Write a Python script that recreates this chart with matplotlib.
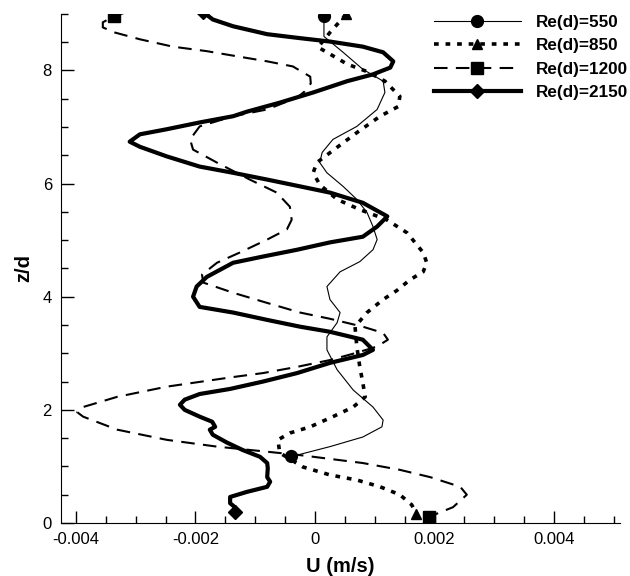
import matplotlib
matplotlib.use("Agg")
import matplotlib.pyplot as plt
from matplotlib.ticker import MultipleLocator, FixedLocator, FixedFormatter

plt.rcParams['font.family'] = ['Liberation Sans', 'DejaVu Sans']
plt.rcParams['axes.unicode_minus'] = False

# velocity profiles, U in m/s against z/d
u_550 = [0.00015, 0.00015, 0.00047, 0.00080, 0.00114, 0.00117, 0.00104, 0.00070, 0.00030, 0.00012,
         0.00008, 0.00020, 0.00047, 0.00070, 0.00087, 0.00097, 0.00104, 0.00097, 0.00075, 0.00042,
         0.00020, 0.00025, 0.00042, 0.00037, 0.00020, 0.00020, 0.00037, 0.00064, 0.00097, 0.00114,
         0.00112, 0.00080, 0.00025, -0.00030, -0.00040]
z_550 = [8.96, 8.60, 8.32, 8.02, 7.81, 7.61, 7.31, 7.01, 6.78, 6.55,
         6.37, 6.19, 5.95, 5.72, 5.49, 5.24, 5.01, 4.83, 4.62, 4.44,
         4.18, 3.95, 3.72, 3.54, 3.29, 3.06, 2.71, 2.35, 2.05, 1.82,
         1.70, 1.52, 1.35, 1.20, 1.19]

u_850 = [0.00052, 0.00025, 0.00005, 0.00020, 0.00054, 0.00087, 0.00117, 0.00142, 0.00139, 0.00109,
         0.00070, 0.00037, 0.00003, -0.00003, 0.00008, 0.00037, 0.00075, 0.00120, 0.00154, 0.00181,
         0.00187, 0.00181, 0.00159, 0.00137, 0.00114, 0.00087, 0.00067, 0.00070, 0.00075, 0.00080,
         0.00084, 0.00064, 0.00030, -0.00008, -0.00042, -0.00062, -0.00059, -0.00020, 0.00025, 0.00070,
         0.00109, 0.00142, 0.00162, 0.00169]
z_850 = [8.99, 8.67, 8.41, 8.32, 8.11, 7.98, 7.81, 7.54, 7.36, 7.19,
         6.90, 6.64, 6.37, 6.19, 5.98, 5.72, 5.54, 5.36, 5.13, 4.78,
         4.60, 4.44, 4.30, 4.11, 3.95, 3.72, 3.47, 3.12, 2.76, 2.48,
         2.23, 2.05, 1.88, 1.70, 1.59, 1.47, 1.24, 0.99, 0.85, 0.76,
         0.64, 0.50, 0.32, 0.16]

u_1200 = [-0.00315, -0.00336, -0.00355, -0.00355, -0.00335, -0.00293, -0.00238, -0.00181, -0.00131, -0.00080,
          -0.00037, -0.00008, -0.00007, -0.00017, -0.00030, -0.00080, -0.00137, -0.00193, -0.00209, -0.00204,
          -0.00164, -0.00109, -0.00064, -0.00042, -0.00039, -0.00047, -0.00080, -0.00126, -0.00164, -0.00189,
          -0.00187, -0.00137, -0.00080, -0.00025, 0.00025, 0.00080, 0.00114, 0.00122, 0.00104, 0.00070,
          0.00025, -0.00030, -0.00087, -0.00137, -0.00248, -0.00331, -0.00388, -0.00398, -0.00388, -0.00331,
          -0.00248, -0.00164, -0.00080, -0.00025, 0.00080, 0.00142, 0.00193, 0.00243, 0.00254, 0.00231,
          0.00198, 0.00191]
z_1200 = [9.03, 8.96, 8.85, 8.76, 8.67, 8.55, 8.42, 8.34, 8.25, 8.16,
          8.07, 7.89, 7.77, 7.63, 7.52, 7.31, 7.19, 7.01, 6.78, 6.60,
          6.37, 6.07, 5.84, 5.59, 5.36, 5.19, 5.01, 4.78, 4.60, 4.39,
          4.25, 4.07, 3.89, 3.72, 3.61, 3.47, 3.36, 3.24, 3.12, 3.01,
          2.88, 2.76, 2.65, 2.58, 2.41, 2.23, 2.05, 1.96, 1.88, 1.65,
          1.47, 1.35, 1.26, 1.20, 1.06, 0.94, 0.81, 0.64, 0.50, 0.28,
          0.14, 0.11]

u_2150 = [-0.00187, -0.00171, -0.00137, -0.00080, -0.00025, 0.00025, 0.00080, 0.00114, 0.00131, 0.00126,
          0.00097, 0.00054, -0.00003, -0.00059, -0.00114, -0.00137, -0.00193, -0.00248, -0.00293, -0.00310,
          -0.00293, -0.00248, -0.00193, -0.00137, -0.00080, -0.00025, 0.00025, 0.00080, 0.00121, 0.00104,
          0.00080, 0.00025, -0.00030, -0.00087, -0.00137, -0.00181, -0.00198, -0.00204, -0.00193, -0.00137,
          -0.00080, -0.00025, 0.00025, 0.00080, 0.00097, 0.00080, 0.00025, -0.00030, -0.00087, -0.00142,
          -0.00193, -0.00218, -0.00226, -0.00218, -0.00193, -0.00172, -0.00167, -0.00176, -0.00171, -0.00147,
          -0.00121, -0.00092, -0.00080, -0.00079, -0.00080, -0.00075, -0.00080, -0.00114, -0.00142, -0.00142,
          -0.00134, -0.00134]
z_2150 = [9.03, 8.90, 8.78, 8.64, 8.57, 8.51, 8.42, 8.32, 8.16, 8.05,
          7.93, 7.81, 7.61, 7.43, 7.27, 7.19, 7.08, 6.96, 6.87, 6.74,
          6.65, 6.48, 6.30, 6.19, 6.07, 5.95, 5.84, 5.66, 5.42, 5.24,
          5.06, 4.96, 4.83, 4.71, 4.60, 4.35, 4.18, 4.00, 3.82, 3.72,
          3.59, 3.47, 3.38, 3.24, 3.06, 2.97, 2.83, 2.65, 2.50, 2.37,
          2.28, 2.18, 2.09, 2.00, 1.88, 1.79, 1.70, 1.65, 1.56, 1.42,
          1.29, 1.17, 1.06, 0.97, 0.81, 0.73, 0.64, 0.55, 0.46, 0.35,
          0.28, 0.19]

labels = ["Re(d)=550", "Re(d)=850", "Re(d)=1200", "Re(d)=2150"]
x_ticks = [-0.004, -0.002, 0, 0.002, 0.004]
x_tick_labels = ["-0.004", "-0.002", "0", "0.002", "0.004"]
y_ticks = [0, 2, 4, 6, 8]
y_tick_labels = ["0", "2", "4", "6", "8"]

fig = plt.figure(figsize=(6.3, 5.76), dpi=100)
ax = fig.add_axes([0.0968, 0.092, 0.887, 0.884])

ax.plot(u_550, z_550, color="black", lw=0.8, marker="o", ms=8.5,
        markevery=[0, -1], label=labels[0])
ax.plot(u_850, z_850, color="black", lw=2.6, linestyle=(0, (1.3, 1.9)), dash_capstyle="butt",
        marker="^", ms=7.5, markevery=[0, -1], label=labels[1])
ax.plot(u_1200, z_1200, color="black", lw=1.5, linestyle=(0, (6.5, 4)), dash_capstyle="butt",
        marker="s", ms=8, markevery=[1, -1], label=labels[2])
ax.plot(u_2150, z_2150, color="black", lw=3.0, marker="D", ms=7.5,
        markevery=[0, -1], label=labels[3])

ax.set_xlim(-0.00425, 0.0051)
ax.set_ylim(0, 9)

ax.xaxis.set_major_locator(FixedLocator(x_ticks))
ax.xaxis.set_major_formatter(FixedFormatter(x_tick_labels))
ax.xaxis.set_minor_locator(MultipleLocator(0.0005))
ax.yaxis.set_major_locator(FixedLocator(y_ticks))
ax.yaxis.set_major_formatter(FixedFormatter(y_tick_labels))
ax.yaxis.set_minor_locator(MultipleLocator(0.5))

ax.tick_params(which="both", direction="in", width=1, labelsize=12, pad=6.5)
ax.tick_params(which="major", length=9)
ax.tick_params(which="minor", length=5)

ax.spines["top"].set_visible(False)
ax.spines["right"].set_visible(False)

ax.set_xlabel("U (m/s)", fontsize=14.5, fontweight="bold", labelpad=7)
ax.set_ylabel("z/d", fontsize=14.5, fontweight="bold", labelpad=7)

leg = ax.legend(loc="upper left", bbox_to_anchor=(0.655, 1.012), frameon=False,
                fontsize=12.3, handlelength=5.1, handletextpad=0.9, labelspacing=0.5,
                numpoints=1, borderaxespad=0)
for t in leg.get_texts():
    t.set_fontweight("bold")

plt.savefig("out.png", dpi=100)
